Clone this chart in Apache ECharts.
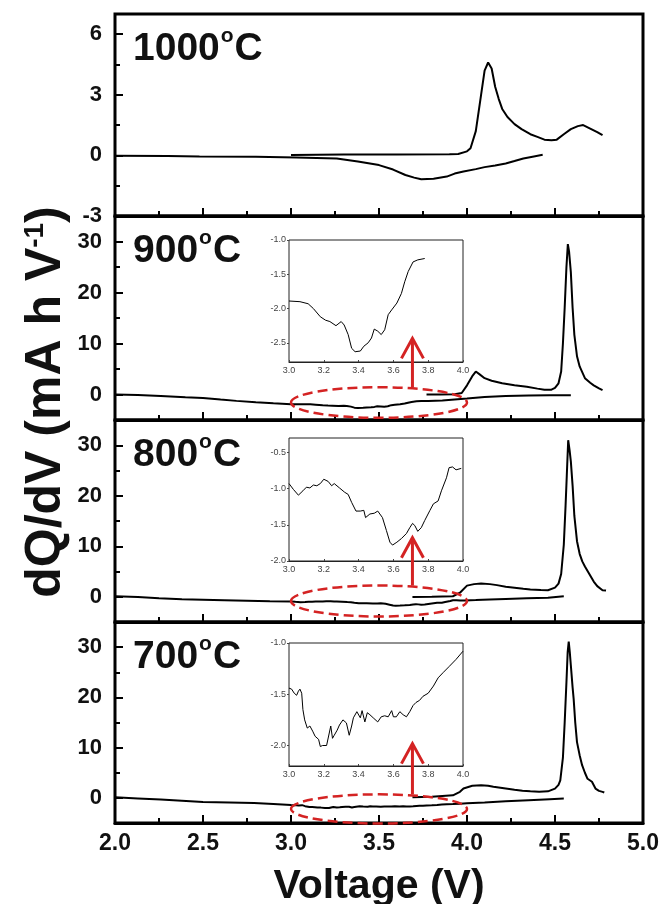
<!DOCTYPE html>
<html><head><meta charset="utf-8">
<script src="https://cdn.jsdelivr.net/npm/echarts@6/dist/echarts.min.js"></script>
<style>html,body{margin:0;padding:0;background:#fff}#c{width:662px;height:904px}</style>
</head><body><div id="c"></div>
<script>
// ---------- data ----------
const panelTemps = ['1000', '900', '800', '700'];
const xTickLabels = [2.0, 2.5, 3.0, 3.5, 4.0, 4.5, 5.0];
const yMajor1000 = [-3, 0, 3, 6];
const yMinor1000 = [-1.5, 1.5, 4.5];
const yMajorHigh = [0, 10, 20, 30];
const yMinorHigh = [5, 15, 25];

const charge1000 = [[3.0,0.02],[3.3,0.05],[3.6,0.05],[3.9,0.06],[3.95,0.07],[4.0,0.2],[4.02,0.35],[4.05,1.2],[4.08,3.0],[4.1,4.2],[4.12,4.6],[4.14,4.3],[4.16,3.4],[4.18,2.8],[4.2,2.3],[4.23,1.9],[4.27,1.55],[4.31,1.3],[4.36,1.05],[4.40,0.92],[4.44,0.78],[4.48,0.75],[4.51,0.78],[4.55,1.05],[4.59,1.3],[4.63,1.45],[4.66,1.5],[4.70,1.33],[4.74,1.15],[4.77,1.0]];
const discharge1000 = [[2.0,-0.02],[2.3,-0.03],[2.48,-0.05],[2.8,-0.07],[3.03,-0.1],[3.26,-0.15],[3.38,-0.3],[3.5,-0.48],[3.58,-0.7],[3.65,-0.97],[3.7,-1.1],[3.74,-1.18],[3.81,-1.16],[3.885,-1.05],[3.93,-0.9],[3.98,-0.8],[4.05,-0.68],[4.1,-0.58],[4.16,-0.5],[4.22,-0.4],[4.27,-0.28],[4.32,-0.15],[4.38,-0.05],[4.43,0.03]];

const charge900 = [[3.77,0.0],[3.85,0.02],[3.93,0.05],[3.97,0.3],[4.0,1.8],[4.03,3.6],[4.05,4.5],[4.07,4.0],[4.1,3.2],[4.14,2.7],[4.2,2.2],[4.27,1.8],[4.34,1.5],[4.40,1.15],[4.44,0.95],[4.48,0.95],[4.5,1.3],[4.52,2.2],[4.535,4.5],[4.545,10],[4.555,17],[4.565,25],[4.573,29.5],[4.58,28],[4.59,24],[4.60,17],[4.61,11.7],[4.625,7.5],[4.64,5.5],[4.67,3.2],[4.7,2.3],[4.72,1.8],[4.75,1.2],[4.77,0.86]];
const discharge900 = [[2.0,0.0],[2.13,-0.1],[2.26,-0.3],[2.4,-0.55],[2.5,-0.7],[2.6,-1.0],[2.69,-1.25],[2.8,-1.5],[2.9,-1.7],
 [3.0,-1.89],[3.063,-1.90],[3.11,-1.93],[3.14,-2.0],[3.18,-2.12],[3.21,-2.17],[3.235,-2.19],[3.27,-2.25],[3.30,-2.19],[3.317,-2.24],[3.34,-2.38],[3.36,-2.58],[3.38,-2.63],[3.41,-2.62],[3.43,-2.55],[3.455,-2.50],[3.474,-2.43],[3.49,-2.30],[3.51,-2.33],[3.53,-2.38],[3.55,-2.31],[3.57,-2.09],[3.59,-2.02],[3.62,-1.92],[3.646,-1.78],[3.665,-1.61],[3.685,-1.46],[3.713,-1.32],[3.74,-1.29],[3.78,-1.27],
 [3.86,-1.2],[3.93,-1.0],[4.0,-0.8],[4.1,-0.5],[4.22,-0.28],[4.35,-0.2],[4.47,-0.15],[4.59,-0.13]];

const charge800 = [[3.69,-0.05],[3.8,0.0],[3.92,0.1],[3.96,0.8],[4.0,2.2],[4.04,2.5],[4.08,2.6],[4.13,2.5],[4.17,2.3],[4.22,2.0],[4.27,1.8],[4.32,1.6],[4.36,1.45],[4.42,1.35],[4.46,1.3],[4.5,1.8],[4.52,2.6],[4.535,4.5],[4.55,10.3],[4.56,18],[4.567,24],[4.575,31],[4.583,29],[4.59,26.8],[4.6,22],[4.61,16],[4.625,11],[4.64,8.5],[4.655,7.0],[4.67,6.0],[4.69,4.8],[4.71,3.6],[4.72,3.0],[4.74,2.1],[4.77,1.3],[4.79,1.25]];
const discharge800 = [[2.0,0.1],[2.13,-0.05],[2.25,-0.3],[2.38,-0.5],[2.5,-0.6],[2.62,-0.7],[2.75,-0.8],[2.88,-0.9],
 [3.0,-0.93],[3.025,-1.01],[3.054,-1.09],[3.08,-1.03],[3.10,-0.98],[3.12,-0.99],[3.14,-0.95],[3.16,-0.96],[3.18,-0.93],[3.20,-0.87],[3.225,-0.90],[3.245,-0.96],[3.26,-0.93],[3.29,-0.99],[3.32,-1.05],[3.34,-1.08],[3.36,-1.19],[3.385,-1.31],[3.41,-1.31],[3.43,-1.30],[3.44,-1.40],[3.465,-1.35],[3.49,-1.34],[3.51,-1.31],[3.537,-1.40],[3.56,-1.58],[3.58,-1.74],[3.595,-1.78],[3.62,-1.74],[3.646,-1.69],[3.675,-1.62],[3.694,-1.54],[3.71,-1.48],[3.723,-1.51],[3.74,-1.59],[3.76,-1.54],[3.78,-1.44],[3.81,-1.30],[3.83,-1.21],[3.857,-1.17],[3.876,-1.03],[3.905,-0.85],[3.92,-0.71],[3.94,-0.70],[3.96,-0.74],[3.99,-0.72],
 [4.05,-0.65],[4.13,-0.55],[4.22,-0.45],[4.34,-0.32],[4.46,-0.2],[4.52,0.0],[4.55,0.1]];

const charge700 = [[3.69,0.1],[3.8,0.2],[3.92,0.5],[3.96,1.2],[3.98,1.85],[4.03,2.4],[4.08,2.5],[4.12,2.4],[4.15,2.2],[4.22,1.85],[4.27,1.6],[4.315,1.4],[4.36,1.3],[4.41,1.2],[4.46,1.3],[4.5,1.85],[4.52,2.6],[4.53,3.5],[4.545,8],[4.555,15],[4.565,23],[4.572,29],[4.578,31.1],[4.584,29],[4.59,26.4],[4.6,22],[4.606,19.7],[4.615,15],[4.625,11.1],[4.64,8.5],[4.654,6.5],[4.67,5.0],[4.685,3.8],[4.71,3.2],[4.73,1.85],[4.75,1.4],[4.77,1.2],[4.78,1.06]];
const discharge700 = [[2.0,0.1],[2.13,-0.1],[2.26,-0.3],[2.38,-0.55],[2.5,-0.8],[2.65,-0.9],[2.79,-1.0],[2.9,-1.2],
 [3.0,-1.44],[3.015,-1.45],[3.03,-1.49],[3.044,-1.51],[3.054,-1.47],[3.063,-1.45],[3.073,-1.49],[3.08,-1.65],[3.09,-1.75],[3.105,-1.83],[3.12,-1.81],[3.136,-1.86],[3.15,-1.91],[3.17,-1.94],[3.18,-2.01],[3.193,-2.0],[3.216,-2.0],[3.225,-1.99],[3.24,-1.81],[3.25,-1.93],[3.26,-1.90],[3.277,-1.85],[3.29,-1.80],[3.31,-1.75],[3.33,-1.78],[3.346,-1.90],[3.36,-1.81],[3.37,-1.73],[3.39,-1.67],[3.41,-1.73],[3.42,-1.66],[3.436,-1.77],[3.45,-1.68],[3.465,-1.70],[3.484,-1.73],[3.51,-1.77],[3.53,-1.72],[3.55,-1.71],[3.57,-1.72],[3.59,-1.66],[3.60,-1.72],[3.617,-1.72],[3.637,-1.67],[3.656,-1.70],[3.675,-1.72],[3.694,-1.67],[3.713,-1.61],[3.73,-1.58],[3.75,-1.56],[3.77,-1.52],[3.80,-1.49],[3.83,-1.42],[3.857,-1.34],[3.885,-1.29],[3.92,-1.23],[3.96,-1.16],[4.0,-1.08],
 [4.1,-0.9],[4.22,-0.66],[4.35,-0.45],[4.47,-0.25],[4.55,-0.13]];

// inset views (zoom of the discharge curve)
const insetXRange = [[3.0, 3.8], [3.0, 4.0], [3.0, 4.0]];
const insetYRange = [[-2.78, -1.0], [-2.0, -0.3], [-2.2, -1.0]];
const insetXTicks = [3.0, 3.2, 3.4, 3.6, 3.8, 4.0];
const insetYTicks = [[-2.5, -2.0, -1.5, -1.0], [-2.0, -1.5, -1.0, -0.5], [-2.0, -1.5, -1.0]];

// ---------- layout / style ----------
const FONT = "'Liberation Sans', Arial, Helvetica, sans-serif";
const charges = [charge1000, charge900, charge800, charge700];
const discharges = [discharge1000, discharge900, discharge800, discharge700];
const panelRects = [[14, 202], [216, 204], [420, 202], [622, 201]];
const yRanges = [[-3, 7], [-5, 35], [-5, 35], [-5, 35]];
const insetRects = [[289, 240, 174, 122], [289, 438, 174, 123], [289, 643, 174, 123]];
const zoomMarks = [ // annotation positions in data coordinates of panels 1..3
  {panel: 1, cy: -1.57, ry: 3.0, tip: 11.0},
  {panel: 2, cy: -0.84, ry: 3.07, tip: 11.7},
  {panel: 3, cy: -2.2, ry: 2.9, tip: 10.8}
];
const RED = '#d42323';
const X_MIN = 2, X_MAX = 5, X_MAJOR = 0.5, X_MINOR = 0.25;

const grid = [], xAxis = [], yAxis = [], series = [];
panelRects.forEach((r, i) => {
  grid.push({left: 115, width: 528, top: r[0], height: r[1], show: true, outerBoundsMode: 'none',
    borderColor: '#000', borderWidth: 3});
  xAxis.push({gridIndex: i, type: 'value', min: X_MIN, max: X_MAX, interval: X_MAJOR,
    axisLine: {show: true, onZero: false, lineStyle: {color: '#000', width: 3}}, splitLine: {show: false},
    axisTick: {show: true, inside: true, length: 8, lineStyle: {color: '#000', width: 2}},
    minorTick: {show: true, splitNumber: 2, length: 5, lineStyle: {color: '#000', width: 2}},
    axisLabel: {show: i === 3, margin: 9, fontSize: 23, fontWeight: 'bold', color: '#111', fontFamily: FONT,
      formatter: v => xTickLabels.includes(v) ? v.toFixed(1) : ''},
    name: i === 3 ? 'Voltage (V)' : '', nameLocation: 'middle', nameGap: 43,
    nameTextStyle: {fontSize: 41, fontWeight: 'bold', color: '#111', fontFamily: FONT}
  });
  const majors = i === 0 ? yMajor1000 : yMajorHigh;
  yAxis.push({gridIndex: i, type: 'value', min: yRanges[i][0], max: yRanges[i][1], position: 'left',
    axisLine: {show: false}, splitLine: {show: false},
    axisTick: {show: true, inside: true, length: 8, customValues: majors, lineStyle: {color: '#000', width: 2}},
    axisLabel: {customValues: majors, margin: 13, fontSize: 22, fontWeight: 'bold', color: '#111', fontFamily: FONT}
  });
});
insetRects.forEach((r, k) => {
  grid.push({left: r[0], top: r[1], width: r[2], height: r[3], show: true, outerBoundsMode: 'none',
    borderColor: '#222', borderWidth: 1});
  xAxis.push({gridIndex: 4 + k, type: 'value', min: 3.0, max: 4.0, interval: 0.2,
    axisLine: {show: true, onZero: false, lineStyle: {color: '#222', width: 1}}, splitLine: {show: false},
    axisTick: {show: true, inside: true, length: 2, lineStyle: {color: '#444', width: 1}},
    axisLabel: {margin: 4, fontSize: 9, color: '#444', fontFamily: FONT,
      formatter: v => insetXTicks.some(t => Math.abs(t - v) < 1e-6) ? v.toFixed(1) : ''}
  });
  yAxis.push({gridIndex: 4 + k, type: 'value', min: insetYRange[k][0], max: insetYRange[k][1], position: 'left',
    axisLine: {show: false}, splitLine: {show: false},
    axisTick: {show: true, inside: false, length: 2, customValues: insetYTicks[k], lineStyle: {color: '#444', width: 1}},
    axisLabel: {customValues: insetYTicks[k], margin: 3, fontSize: 9, color: '#444', fontFamily: FONT,
      formatter: v => v.toFixed(1)}
  });
});
// secondary y axes carrying the shorter minor ticks
panelRects.forEach((r, i) => {
  const minors = i === 0 ? yMinor1000 : yMinorHigh;
  yAxis.push({gridIndex: i, type: 'value', min: yRanges[i][0], max: yRanges[i][1], position: 'left',
    axisLine: {show: false}, splitLine: {show: false}, axisLabel: {show: false},
    axisTick: {show: true, inside: true, length: 5, customValues: minors, lineStyle: {color: '#000', width: 2}}
  });
});

const lineStyleMain = {color: '#000', width: 2};
charges.forEach((d, i) => {
  series.push({type: 'line', xAxisIndex: i, yAxisIndex: i, data: d, symbol: 'none', lineStyle: lineStyleMain, animation: false, z: 3});
  series.push({type: 'line', xAxisIndex: i, yAxisIndex: i, data: discharges[i], symbol: 'none', lineStyle: lineStyleMain, animation: false, z: 3});
});
insetXRange.forEach((rg, k) => {
  const d = discharges[k + 1].filter(p => p[0] >= rg[0] - 1e-9 && p[0] <= rg[1] + 1e-9);
  series.push({type: 'line', xAxisIndex: 4 + k, yAxisIndex: 4 + k, data: d, symbol: 'none',
    lineStyle: {color: '#000', width: 1}, animation: false});
});

const chart = echarts.init(document.getElementById('c'), null, {renderer: 'canvas'});
chart.setOption({backgroundColor: '#fff', animation: false, grid, xAxis, yAxis, series});

// ---------- annotations (x ticks, text, zoom ellipses, arrows) ----------
const graphic = [];
// inward x ticks on the bottom edge of every panel, placed through the axis scales
panelRects.forEach((r, i) => {
  const yb = chart.convertToPixel({yAxisIndex: i}, yRanges[i][0]);
  const nSteps = Math.round((X_MAX - X_MIN) / X_MINOR);
  for (let s = 0; s <= nSteps; s++) {
    const v = X_MIN + s * X_MINOR;
    const xp = chart.convertToPixel({xAxisIndex: i}, v);
    if (!isFinite(xp) || !isFinite(yb)) continue;
    const major = Math.abs(v / X_MAJOR - Math.round(v / X_MAJOR)) < 1e-6;
    graphic.push({type: 'line', z: 40, silent: true,
      shape: {x1: xp, y1: yb, x2: xp, y2: yb - (major ? 8 : 5)},
      style: {stroke: '#000', lineWidth: 2}});
  }
});
graphic.push({type: 'text', x: 46, y: 402, rotation: Math.PI / 2, z: 50,
  style: {text: '{t|dQ/dV (mA h V}{s|-1}{t|)}', align: 'center', verticalAlign: 'middle',
    rich: {t: {fontSize: 50, fontWeight: 'bold', fontFamily: FONT, fill: '#111'},
           s: {fontSize: 28, fontWeight: 'bold', fontFamily: FONT, fill: '#111', verticalAlign: 'top'}}}});
panelTemps.forEach((t, i) => {
  graphic.push({type: 'text', x: 133, y: panelRects[i][0] + 35, z: 50,
    style: {text: '{a|' + t + '}{b|o}{a|C}', verticalAlign: 'middle',
      rich: {a: {fontSize: 39, lineHeight: 46, fontWeight: 'bold', fontFamily: FONT, fill: '#111'},
             b: {fontSize: 21, lineHeight: 14, fontWeight: 'bold', fontFamily: FONT, fill: '#111', verticalAlign: 'top', padding: [0, 1, 0, 1]}}}});
});
zoomMarks.forEach(m => {
  const c = chart.convertToPixel({gridIndex: m.panel}, [3.5, m.cy]);
  const l = chart.convertToPixel({gridIndex: m.panel}, [3.0, m.cy]);
  const t = chart.convertToPixel({gridIndex: m.panel}, [3.5, m.cy + m.ry]);
  const tip = chart.convertToPixel({gridIndex: m.panel}, [3.69, m.tip]);
  const rx = c[0] - l[0], ry = c[1] - t[1];
  graphic.push({type: 'ellipse', z: 60, shape: {cx: c[0], cy: c[1], rx: rx, ry: ry},
    style: {fill: 'none', stroke: RED, lineWidth: 2.5, lineDash: [10, 5]}});
  graphic.push({type: 'line', z: 60, shape: {x1: tip[0], y1: c[1] - ry, x2: tip[0], y2: tip[1]},
    style: {stroke: RED, lineWidth: 3}});
  graphic.push({type: 'polyline', z: 60, shape: {points: [[tip[0] - 11, tip[1] + 20], [tip[0], tip[1]], [tip[0] + 11, tip[1] + 20]]},
    style: {fill: 'none', stroke: RED, lineWidth: 3}});
});
chart.setOption({graphic});
</script></body></html>
